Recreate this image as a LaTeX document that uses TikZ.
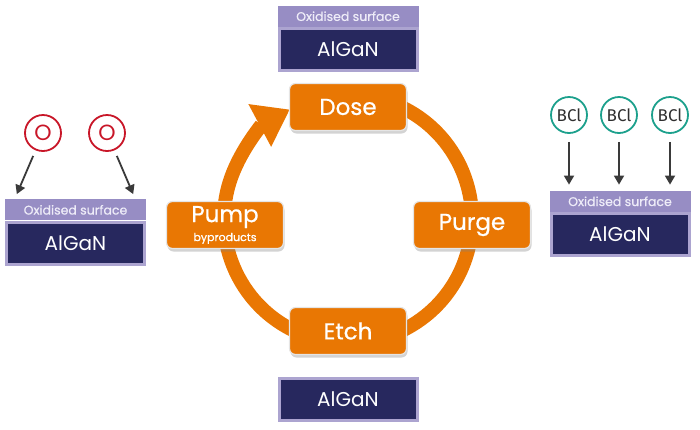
\documentclass[tikz,border=0pt]{standalone}
\usepackage{fontspec}
\setmainfont{Poppins}
\newfontfamily\stagefont{Poppins}[FakeBold=0.7]
\newfontfamily\gasfont{Fira Sans}
\usepackage{xcolor}
\usepackage{tikz}
\usetikzlibrary{positioning,arrows.meta,shadows}

\definecolor{procorange}{RGB}{233,119,3}
\definecolor{gannavy}{RGB}{39,40,94}
\definecolor{oxlilac}{RGB}{151,141,196}
\definecolor{oxtext}{RGB}{238,236,248}
\definecolor{oxred}{RGB}{200,22,40}
\definecolor{bclteal}{RGB}{28,160,140}
\definecolor{arrowgrey}{RGB}{58,58,58}

\begin{document}
\begin{tikzpicture}[x=1pt,y=1pt,
    stage/.style={rectangle,rounded corners=6pt,fill=procorange,draw=gray!20,line width=1.2pt,
      minimum width=117pt,minimum height=47pt,text=white,font=\stagefont\fontsize{23}{25}\selectfont,
      drop shadow={opacity=.35,shadow xshift=1pt,shadow yshift=-3pt}},
    gan/.style={rectangle,fill=gannavy,draw=oxlilac!80!white,line width=3pt,
      minimum width=138pt,minimum height=42pt,text=white,font=\fontsize{20}{22}\selectfont},
    oxide/.style={rectangle,fill=oxlilac,minimum width=141pt,minimum height=21pt,inner sep=0pt,
      text=oxtext,font=\stagefont\fontsize{12.5}{13}\selectfont},
    atomO/.style={circle,draw=oxred,line width=1.8pt,minimum size=36pt,inner sep=0pt,
      text=oxred,font=\fontsize{22}{22}\selectfont},
    atomB/.style={circle,draw=bclteal,line width=1.8pt,minimum size=36pt,inner sep=0pt,
      text=arrowgrey!80!black,font=\gasfont\fontsize{17}{17}\selectfont},
    gas/.style={draw=arrowgrey,line width=1.8pt,-{Triangle[length=9pt,width=10pt]}},
    ring/.style={draw=procorange,line width=14pt}]

  \useasboundingbox (0,0) rectangle (700,-429);

  % the cycle
  \coordinate (cyc) at (348,-219);
  \draw[ring,-{Triangle[length=34pt,width=46pt]}] ([shift={(70:124)}]cyc)
    arc[start angle=70,end angle=-242,radius=124];
  \node[stage] (dose) at ([yshift=112]cyc) {Dose};
  \node[stage] (etch) at ([yshift=-112]cyc) {Etch};
  \node[stage] (purge) at ([shift={(124,-6)}]cyc) {Purge};
  \node[stage,align=center] (pump) at ([shift={(-123,-6)}]cyc)
    {Pump\\[-6pt]{\fontsize{11}{12}\selectfont byproducts}};

  % surfaces
  \node[gan,above=11pt of dose] (ganTop) {AlGaN};
  \node[oxide,above=0pt of ganTop] (oxTop) {Oxidised surface};
  \node[gan,below=22pt of etch] (ganBot) {AlGaN};
  \node[gan] (ganL) at (75.5,-243) {AlGaN};
  \node[oxide,above=0pt of ganL] (oxL) {Oxidised surface};
  \node[gan] (ganR) at (620,-234.5) {AlGaN};
  \node[oxide,above=0pt of ganR] (oxR) {Oxidised surface};

  % oxygen dose
  \node[atomO] (oxA) at (43,-133) {O};
  \node[atomO,on grid,right=64pt of oxA] (oxB) {O};
  \coordinate (oxAend) at ([shift={(12,5)}]oxL.north west);
  \coordinate (oxBend) at ([shift={(-13,5)}]oxL.north east);
  \draw[gas,shorten <=6pt] (oxA) -- (oxAend);
  \draw[gas,shorten <=6pt] (oxB) -- (oxBend);

  % BCl etch
  \foreach \i/\x in {A/569,B/619,C/670} {
    \node[atomB] (bcl\i) at (\x,-115) {BCl};
    \draw[gas,shorten <=8pt,shorten >=6pt] (bcl\i) -- (bcl\i |- oxR.north);
  }
\end{tikzpicture}
\end{document}
